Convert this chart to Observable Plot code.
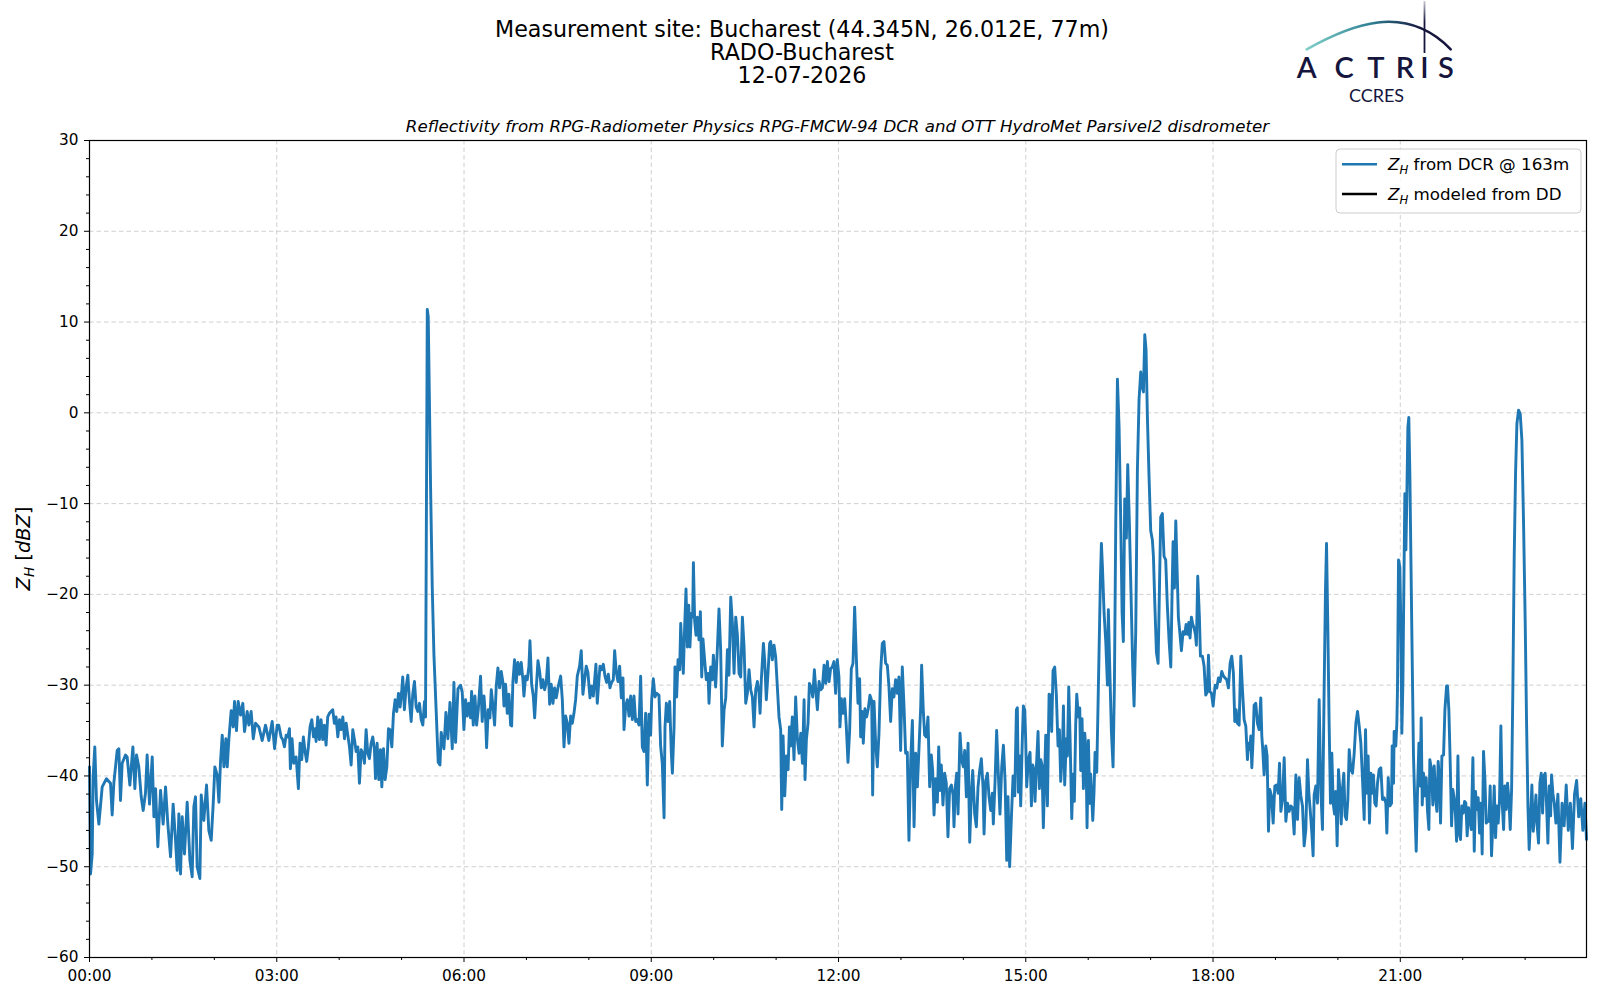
<!DOCTYPE html>
<html><head><meta charset="utf-8">
<script src="https://cdn.jsdelivr.net/npm/d3@7"></script>
<script src="https://cdn.jsdelivr.net/npm/@observablehq/plot@0.6"></script>
<style>
html,body{margin:0;padding:0;background:#fff;}
#fig{position:relative;width:1600px;height:1000px;overflow:hidden;font-family:"DejaVu Sans",sans-serif;background:#fff;}
svg{display:block;}
</style></head><body><div id="fig"></div>
<script>
// ---- Text ----
const titleLines = ["Measurement site: Bucharest (44.345N, 26.012E, 77m)", "RADO-Bucharest", "12-07-2026"];
const subtitle = "Reflectivity from RPG-Radiometer Physics RPG-FMCW-94 DCR and OTT HydroMet Parsivel2 disdrometer";
const legendLabels = [" from DCR @ 163m", " modeled from DD"];
const legendColors = ["#1f77b4", "#000000"];

// ---- Axis ticks ----
const xMajorTicks = [0, 180, 360, 540, 720, 900, 1080, 1260];
const xTickLabels = ["00:00", "03:00", "06:00", "09:00", "12:00", "15:00", "18:00", "21:00"];
const xMinorTicks = [60, 120, 240, 300, 420, 480, 600, 660, 780, 840, 960, 1020, 1140, 1200, 1320, 1380];
const yMajorTicks = [-60, -50, -40, -30, -20, -10, 0, 10, 20, 30];
const yMinorTicks = d3.range(-58, 30, 2).filter(v => v % 10 !== 0);

// ---- Data: [minutes since 00:00, Z_H dBZ] ----
const dcr00to03 = [[0,-39.0],[1,-50.8],[2.6,-48.6],[3.5,-40.1],[5.1,-36.8],[6.7,-42.7],[9.0,-45.3],[12.2,-41.2],[16.3,-40.3],[20.2,-40.8],[21.8,-44.3],[23.4,-40.8],[26.6,-37.2],[28.2,-37.0],[29.8,-42.7],[31.4,-38.6],[34.6,-37.7],[36.2,-37.9],[38.8,-41.0],[41.7,-36.8],[43.6,-41.4],[45.2,-37.7],[47.4,-39.0],[49.7,-42.3],[51.6,-43.8],[53.8,-41.9],[55.4,-37.7],[57.7,-43.1],[60.3,-37.9],[61.9,-44.5],[63.5,-41.4],[65.7,-47.8],[68.3,-41.6],[70.8,-45.3],[73.1,-41.2],[75.3,-45.3],[77.9,-48.9],[80.4,-43.1],[82.7,-47.1],[84.3,-50.4],[85.9,-44.2],[87.5,-50.8],[89.1,-44.5],[91.3,-48.6],[93.9,-42.9],[96.5,-49.3],[98.7,-51.1],[100.3,-43.4],[101.9,-42.3],[103.5,-50.0],[106.1,-51.3],[107.4,-42.1],[109.9,-44.9],[112.5,-41.0],[114.7,-46.0],[117.0,-47.1],[118.9,-43.1],[120.5,-39.0],[122.8,-39.9],[124.4,-42.9],[126.0,-38.3],[127.6,-35.5],[129.2,-39.0],[131.1,-35.9],[132.4,-39.0],[134.0,-35.9],[136.2,-32.8],[138.1,-34.6],[139.4,-31.8],[141.3,-35.0],[142.9,-31.8],[145.2,-33.3],[147.4,-32.0],[149.0,-35.1],[151.6,-32.9],[153.2,-34.4],[155.4,-32.9],[157.4,-35.9],[159.6,-34.2],[162.8,-34.6],[166.0,-36.1],[169.2,-34.4],[172.4,-36.1],[175.6,-34.0],[177.9,-37.0]];
const dcr03to06 = [[180.4,-34.4],[181.9,-34.4],[184.2,-35.7],[185.8,-36.0],[187.4,-36.8],[189.0,-35.5],[190.6,-35.7],[192.2,-34.8],[193.1,-39.2],[194.7,-35.9],[196.3,-38.6],[198.6,-37.9],[200.8,-41.4],[202.4,-36.4],[204.0,-38.2],[205.6,-35.7],[207.2,-37.3],[208.8,-38.4],[210.4,-36.8],[212.0,-34.6],[213.7,-33.8],[215.3,-35.7],[216.9,-34.8],[217.8,-36.2],[219.4,-33.5],[221.0,-36.0],[222.6,-33.8],[224.2,-36.0],[225.8,-34.4],[227.4,-36.6],[229.0,-33.5],[230.6,-33.1],[232.2,-32.9],[233.8,-32.7],[235.4,-34.2],[237.0,-33.5],[238.7,-35.7],[240.3,-33.8],[241.9,-34.9],[243.5,-33.5],[245.1,-35.9],[246.7,-34.2],[248.3,-35.5],[249.9,-36.8],[251.5,-38.8],[253.1,-34.9],[254.7,-36.0],[256.3,-37.3],[257.9,-36.8],[259.5,-40.8],[261.1,-37.1],[262.7,-37.5],[264.3,-38.6],[265.9,-34.9],[267.5,-37.5],[269.1,-38.1],[270.7,-36.4],[272.3,-35.7],[273.9,-37.1],[274.9,-40.3],[276.5,-36.4],[278.1,-40.4],[279.7,-37.1],[281.0,-41.2],[282.6,-37.0],[284.2,-40.4],[285.8,-39.0],[287.4,-34.8],[289.0,-34.9],[290.6,-36.8],[292.2,-33.1],[293.8,-31.6],[295.4,-32.9],[297.0,-30.9],[298.6,-32.4],[300.2,-30.5],[301.1,-29.1],[302.7,-32.7],[304.4,-30.2],[306.0,-28.9],[307.6,-31.8],[309.2,-34.0],[310.8,-30.9],[312.4,-29.6],[314.0,-32.4],[315.6,-32.9],[317.2,-32.0],[318.8,-33.8],[320.4,-34.4],[322.0,-31.8],[323.0,-33.5],[324.7,11.4],[325.6,10.6],[326.6,2.6],[327.9,-8.4],[329.5,-19.4],[331.1,-26.7],[333.3,-33.0],[335.2,-38.5],[336.9,-38.8],[338.1,-35.2],[340.7,-37.0],[342.6,-33.0],[344.5,-35.9],[346.5,-31.9],[348.7,-37.0],[350.3,-29.7],[351.9,-36.3],[354.2,-30.4],[356.7,-30.0],[358.3,-30.8]];
const dcr06to09 = [[359.9,-34.9],[361.5,-31.6],[363.1,-33.4],[364.7,-32.0],[366.3,-33.6],[367.3,-30.7],[368.9,-34.4],[370.5,-31.2],[372.1,-34.4],[373.7,-32.7],[375.9,-29.0],[377.5,-34.0],[379.2,-31.2],[380.8,-33.8],[381.7,-36.9],[383.3,-32.7],[384.9,-33.6],[386.2,-30.5],[387.8,-32.3],[389.4,-34.4],[391.0,-30.1],[392.6,-28.1],[394.2,-30.3],[395.8,-28.5],[397.4,-29.7],[398.4,-32.3],[400.0,-29.9],[401.6,-33.1],[403.2,-31.0],[404.8,-34.4],[405.8,-34.5],[407.0,-29.6],[408.6,-27.2],[410.2,-29.7],[411.8,-27.5],[413.4,-28.8],[415.0,-27.5],[416.6,-29.4],[417.6,-31.2],[419.2,-29.0],[420.8,-29.4],[422.4,-27.9],[423.4,-25.1],[425.0,-29.9],[426.6,-31.2],[427.9,-33.6],[429.5,-30.3],[431.1,-27.3],[432.7,-28.5],[434.3,-30.3],[435.9,-29.4],[437.5,-30.5],[439.1,-29.7],[440.7,-27.0],[442.3,-32.1],[443.9,-29.9],[445.5,-32.0],[447.1,-30.3],[448.7,-31.4],[450.3,-30.3],[452.9,-29.0],[454.5,-31.6],[456.1,-36.8],[457.7,-33.4],[459.3,-34.2],[460.9,-36.4],[462.5,-33.4],[464.1,-34.2],[465.7,-33.1],[467.3,-31.6],[468.9,-29.0],[471.1,-27.9],[472.7,-26.2],[474.3,-31.0],[475.9,-29.4],[477.5,-27.9],[479.1,-28.6],[481.1,-31.4],[482.7,-30.1],[484.3,-31.2],[485.6,-29.4],[486.8,-27.7],[488.1,-32.0],[489.7,-29.4],[490.7,-27.9],[492.3,-28.3],[493.9,-27.7],[495.5,-29.0],[497.1,-29.7],[498.7,-28.8],[500.3,-30.3],[501.9,-29.7],[503.5,-29.4],[504.8,-26.2],[506.4,-28.6],[508.0,-29.6],[509.6,-27.9],[511.2,-31.4],[512.8,-29.2],[513.8,-34.9],[515.4,-32.3],[517.0,-31.6],[518.6,-33.4],[520.2,-31.2],[521.8,-33.8],[523.4,-31.2],[525.0,-34.0],[526.6,-33.8],[528.2,-34.4],[529.8,-29.0],[531.4,-36.8],[533.0,-37.3],[534.6,-33.1],[536.2,-41.0],[537.8,-33.2]];
const dcr09to12 = [[539.4,-35.5],[540.4,-31.6],[542.0,-29.3],[543.6,-31.3],[545.2,-30.9],[547.4,-31.1],[549.0,-36.7],[550.6,-38.6],[552.3,-44.6],[553.2,-34.6],[554.5,-32.0],[556.1,-34.0],[557.7,-31.8],[559.3,-37.5],[560.3,-39.7],[561.9,-34.6],[562.8,-28.0],[564.4,-31.3],[565.7,-27.2],[567.3,-28.3],[568.3,-23.2],[569.9,-26.9],[570.8,-28.7],[572.1,-23.6],[573.4,-19.4],[574.7,-25.8],[576.0,-21.2],[577.2,-25.8],[578.5,-22.1],[579.8,-22.5],[580.5,-16.5],[581.7,-22.9],[583.0,-24.5],[584.3,-22.5],[585.9,-25.0],[587.2,-21.9],[588.5,-29.1],[589.7,-24.9],[591.3,-27.2],[592.9,-29.4],[594.6,-28.7],[595.5,-32.0],[597.1,-28.0],[598.7,-29.4],[599.7,-26.7],[601.9,-30.2],[603.5,-26.1],[605.1,-21.6],[606.7,-26.1],[608.3,-36.7],[610.0,-32.7],[611.6,-31.4],[613.2,-26.1],[614.7,-28.9],[616.4,-20.3],[618.0,-23.2],[619.6,-28.7],[621.2,-22.5],[622.8,-24.5],[624.4,-28.7],[626.0,-29.1],[627.6,-22.5],[629.2,-25.8],[630.8,-32.0],[632.4,-30.9],[634.0,-28.3],[635.6,-30.5],[637.2,-31.3],[638.8,-34.6],[640.4,-30.5],[642.0,-29.6],[643.6,-30.9],[644.6,-33.1],[645.8,-29.4],[647.8,-25.4],[649.0,-27.2],[650.6,-31.6],[652.2,-28.7],[653.8,-25.4],[654.8,-25.2],[656.4,-27.2],[658.0,-25.6],[659.6,-26.9],[661.2,-30.2],[662.8,-33.5],[664.4,-34.9],[665.4,-43.7],[666.7,-35.6],[668.3,-42.2],[669.9,-37.8],[671.5,-39.3],[672.8,-34.6],[674.0,-36.7],[675.6,-33.5],[677.2,-38.2],[678.8,-31.3],[680.5,-36.0],[682.1,-37.5],[683.7,-35.3],[685.3,-38.6],[686.9,-31.6],[687.8,-40.4],[689.1,-36.0],[690.7,-34.2],[692.0,-29.8],[693.6,-30.2],[695.2,-31.3],[696.8,-28.3],[698.4,-30.9],[699.7,-32.7],[701.3,-29.6],[702.9,-30.5],[704.5,-30.3],[706.1,-27.8],[707.7,-29.8],[709.3,-27.4],[710.9,-29.6]];
const dcr12to15 = [[712.4,-28.2],[714.0,-28.0],[715.6,-27.4],[717.2,-30.9],[718.8,-27.2],[720.4,-29.1],[721.4,-34.6],[722.7,-31.5],[724.3,-33.1],[725.9,-31.5],[727.5,-34.6],[729.1,-38.5],[730.7,-35.0],[732.3,-28.2],[733.9,-27.6],[735.5,-21.4],[737.1,-26.9],[738.7,-32.0],[740.3,-29.3],[741.3,-35.7],[742.9,-32.9],[743.8,-36.4],[745.4,-32.6],[747.0,-33.5],[748.6,-32.6],[750.2,-31.1],[751.9,-31.7],[752.8,-42.1],[754.1,-31.8],[755.7,-36.4],[757.3,-39.0],[758.9,-35.3],[760.5,-28.5],[762.1,-25.4],[763.7,-25.2],[765.3,-27.6],[766.9,-27.8],[768.5,-30.2],[770.1,-34.0],[771.7,-30.4],[773.3,-31.3],[774.9,-29.4],[776.5,-30.9],[778.1,-29.1],[779.7,-37.2],[781.3,-28.0],[782.9,-32.2],[784.5,-37.5],[786.1,-37.4],[787.7,-47.1],[789.4,-38.3],[791.0,-33.9],[792.6,-45.6],[794.2,-37.5],[795.8,-41.2],[797.4,-36.8],[799.0,-32.4],[799.9,-27.8],[801.5,-32.8],[802.8,-35.5],[804.4,-35.7],[806.0,-33.5],[807.6,-41.2],[809.2,-37.7],[810.5,-39.4],[811.8,-44.3],[813.4,-40.3],[815.0,-42.9],[816.3,-36.8],[817.6,-41.6],[818.8,-38.8],[820.4,-43.2],[822.0,-39.7],[823.6,-40.8],[825.2,-46.7],[826.8,-41.4],[828.5,-41.0],[830.1,-42.1],[831.0,-45.6],[832.3,-41.2],[833.6,-39.7],[834.9,-44.2],[836.8,-35.3],[838.4,-38.3],[840.0,-39.0],[841.3,-37.2],[842.9,-42.3],[844.5,-36.4],[846.1,-47.3],[847.7,-41.9],[849.0,-39.4],[850.9,-44.2],[852.5,-45.6],[854.1,-41.2],[855.7,-39.4],[857.3,-38.1],[858.9,-41.2],[859.9,-46.4],[861.5,-40.5],[863.1,-39.7],[864.7,-42.3],[866.3,-43.8],[867.9,-41.9],[868.8,-45.3],[870.4,-40.8],[872.0,-35.0],[873.6,-39.7],[875.2,-44.2],[876.9,-39.0],[878.5,-36.6],[880.1,-40.5],[881.7,-49.3],[882.9,-42.3],[884.5,-50.0]];
const dcr15to18 = [[886.2,-44.5],[887.8,-40.0],[889.4,-42.2],[891.0,-32.7],[891.9,-32.5],[892.9,-41.8],[894.2,-37.8],[895.1,-43.3],[896.7,-35.9],[897.7,-32.3],[899.0,-32.7],[899.9,-35.9],[900.9,-41.2],[902.5,-38.2],[904.1,-37.4],[905.4,-43.3],[906.7,-38.8],[908.0,-39.4],[908.9,-42.8],[910.2,-39.0],[911.8,-35.1],[913.1,-41.4],[914.4,-38.2],[915.6,-38.8],[916.9,-45.7],[918.2,-39.8],[919.2,-35.5],[920.8,-43.3],[922.4,-31.0],[924.0,-31.1],[924.9,-35.1],[926.2,-28.4],[927.8,-28.0],[929.4,-31.1],[931.0,-36.7],[932.3,-34.9],[933.6,-40.6],[935.2,-37.2],[936.2,-32.3],[937.4,-41.0],[939.0,-35.9],[940.0,-37.8],[941.3,-30.2],[942.6,-35.9],[944.2,-44.7],[945.4,-39.8],[946.7,-42.8],[948.0,-34.3],[949.0,-31.0],[950.6,-33.5],[951.9,-32.5],[952.8,-39.4],[954.1,-33.7],[955.4,-41.4],[956.7,-35.3],[957.9,-37.4],[958.9,-45.7],[960.2,-36.1],[961.5,-43.0],[962.4,-39.8],[964.4,-44.9],[965.6,-41.8],[966.6,-37.4],[968.2,-39.6],[969.5,-32.0],[970.8,-24.1],[971.7,-18.5],[972.7,-14.4],[973.7,-17.0],[975.3,-22.1],[976.9,-25.2],[978.5,-30.0],[979.4,-21.7],[980.7,-28.0],[982.3,-35.1],[983.9,-39.0],[985.2,-30.0],[986.5,-12.2],[988.1,3.7],[989.7,-1.6],[991.3,-12.2],[992.6,-22.1],[993.8,-25.2],[995.1,-9.5],[996.7,-13.8],[998.0,-5.7],[999.6,-12.2],[1001.2,-20.1],[1002.8,-28.0],[1004.1,-32.3],[1005.7,-24.1],[1007.3,-6.3],[1008.9,1.5],[1010.5,4.5],[1011.8,2.9],[1013.1,2.3],[1014.4,8.6],[1015.6,7.0],[1016.9,-0.4],[1018.5,-7.1],[1020.1,-13.0],[1021.7,-14.0],[1022.7,-15.8],[1024.0,-20.9],[1025.6,-26.4],[1027.2,-27.6],[1028.5,-19.3],[1029.7,-11.5],[1031.3,-11.1],[1032.9,-15.8],[1034.5,-16.2],[1036.1,-21.3],[1037.8,-25.2],[1039.4,-28.0],[1040.6,-20.1],[1041.6,-14.2],[1042.9,-19.3],[1044.2,-11.9],[1045.4,-17.0],[1046.7,-22.5],[1048.0,-24.1],[1049.6,-26.2],[1051.2,-24.1],[1052.8,-24.4],[1054.1,-23.3],[1055.4,-24.4],[1056.7,-23.1],[1057.9,-24.8],[1059.2,-22.5],[1060.5,-23.3],[1061.8,-23.7],[1063.1,-24.4],[1064.0,-25.6],[1065.3,-18.0],[1066.9,-22.5],[1067.9,-26.8]];
const dcr18to21 = [[1069.8,-26.8],[1071.4,-27.9],[1073.0,-31.1],[1074.6,-30.7],[1075.6,-26.7],[1076.9,-30.7],[1078.5,-30.9],[1080.1,-32.3],[1082.0,-30.0],[1083.6,-30.3],[1085.2,-29.2],[1086.8,-29.6],[1088.4,-28.5],[1090.0,-29.0],[1091.6,-29.2],[1093.2,-29.4],[1094.8,-30.3],[1096.4,-27.6],[1098.0,-26.8],[1099.6,-28.7],[1100.9,-34.0],[1102.2,-32.7],[1103.5,-34.2],[1105.1,-34.4],[1106.7,-26.8],[1108.3,-30.5],[1109.9,-33.8],[1111.5,-34.5],[1113.1,-38.2],[1114.1,-36.4],[1115.3,-37.1],[1116.3,-35.6],[1117.3,-39.1],[1118.5,-36.0],[1119.5,-32.2],[1121.1,-32.0],[1122.7,-34.2],[1124.3,-34.9],[1125.9,-31.4],[1126.9,-35.6],[1127.8,-37.1],[1129.1,-39.9],[1130.7,-36.7],[1132.0,-37.8],[1133.3,-46.1],[1134.6,-41.5],[1136.2,-42.2],[1137.8,-45.2],[1139.4,-41.1],[1141.0,-41.0],[1142.6,-41.9],[1143.9,-38.6],[1145.2,-43.9],[1146.8,-42.6],[1148.4,-38.0],[1150.0,-45.0],[1151.6,-43.0],[1153.2,-43.9],[1154.8,-43.3],[1156.4,-43.5],[1158.0,-46.4],[1159.6,-39.9],[1161.2,-44.8],[1162.8,-40.2],[1164.4,-42.2],[1166.0,-43.3],[1167.6,-47.7],[1169.2,-45.9],[1170.8,-38.2],[1172.1,-41.9],[1173.4,-43.7],[1175.0,-46.3],[1176.2,-48.8],[1177.2,-42.1],[1178.8,-41.1],[1180.4,-43.0],[1182.0,-31.6],[1183.6,-41.5],[1185.2,-45.9],[1186.8,-30.5],[1188.1,-19.5],[1189.1,-14.4],[1190.3,-23.2],[1191.6,-34.2],[1192.9,-43.0],[1194.2,-37.5],[1195.5,-43.0],[1196.8,-44.2],[1198.0,-41.7],[1199.3,-47.7],[1200.6,-39.3],[1201.9,-41.5],[1203.2,-45.3],[1204.4,-41.5],[1205.7,-39.7],[1207.0,-44.4],[1208.3,-44.8],[1209.6,-42.6],[1210.9,-37.1],[1212.5,-39.3],[1214.1,-39.7],[1215.7,-37.5],[1217.3,-34.2],[1218.9,-32.9],[1220.5,-34.5],[1222.1,-36.4],[1223.7,-40.4],[1225.3,-44.8],[1226.6,-34.9],[1227.8,-41.9],[1229.1,-37.8],[1230.4,-45.2],[1231.7,-39.7],[1233.0,-41.9],[1234.2,-39.9],[1235.5,-43.0],[1236.8,-43.3],[1238.1,-40.8],[1239.7,-39.3]];
const dcr21to24 = [[1241.3,-39.1],[1242.9,-42.6],[1244.5,-42.4],[1246.1,-43.0],[1247.1,-46.3],[1248.4,-40.2],[1250.0,-43.3],[1251.6,-43.0],[1252.2,-36.7],[1253.5,-40.8],[1254.1,-35.1],[1255.7,-36.7],[1256.7,-34.2],[1257.3,-30.5],[1258.3,-16.2],[1259.6,-17.0],[1260.5,-23.2],[1261.5,-35.3],[1262.5,-29.8],[1263.4,-19.5],[1264.4,-8.9],[1265.4,-15.1],[1266.3,-9.3],[1267.3,-1.6],[1268.2,-0.5],[1269.2,-6.7],[1270.2,-15.9],[1271.4,-26.8],[1272.7,-37.8],[1274.0,-43.3],[1275.3,-48.3],[1276.6,-41.5],[1277.9,-36.4],[1279.1,-41.1],[1280.1,-33.6],[1281.1,-43.2],[1282.3,-39.7],[1283.6,-42.2],[1284.9,-40.2],[1286.2,-43.9],[1287.5,-45.9],[1288.4,-38.2],[1290.0,-39.3],[1291.3,-43.2],[1292.6,-38.9],[1293.9,-42.2],[1295.2,-43.9],[1296.4,-38.4],[1297.7,-40.4],[1298.7,-45.2],[1300.0,-37.8],[1301.6,-37.7],[1302.9,-32.7],[1304.5,-30.1],[1305.4,-30.1],[1306.7,-32.7],[1308.0,-38.6],[1309.3,-45.5],[1310.5,-41.5],[1311.8,-42.4],[1313.1,-44.4],[1314.1,-47.2],[1315.4,-37.8],[1316.6,-46.3],[1317.9,-47.0],[1319.2,-43.3],[1320.5,-44.1],[1321.8,-42.8],[1323.0,-43.0],[1324.3,-46.6],[1325.6,-43.5],[1326.9,-44.8],[1328.2,-45.9],[1329.8,-38.0],[1331.1,-48.3],[1332.3,-41.7],[1333.6,-43.7],[1334.9,-42.4],[1336.2,-46.3],[1337.5,-43.0],[1338.7,-48.6],[1340.0,-37.3],[1341.3,-40.2],[1342.6,-45.2],[1343.9,-45.0],[1345.2,-45.0],[1346.4,-41.1],[1347.7,-48.8],[1349.0,-45.3],[1350.3,-41.1],[1351.6,-46.8],[1352.8,-43.3],[1354.1,-45.2],[1355.4,-42.6],[1356.7,-34.5],[1358.0,-43.0],[1359.3,-45.9],[1360.5,-41.1],[1361.8,-43.7],[1363.1,-40.8],[1364.4,-42.6],[1365.7,-45.9],[1367.0,-41.5],[1368.2,-30.5],[1369.5,-15.9],[1370.8,-6.7],[1372.1,-1.2],[1373.7,0.3],[1375.3,-0.1],[1376.9,-3.0],[1378.5,-12.2],[1380.1,-23.2],[1381.4,-34.2],[1382.7,-43.3],[1383.9,-48.1],[1385.2,-44.8],[1386.5,-41.0],[1387.8,-46.1],[1389.1,-44.4],[1390.4,-42.1],[1391.6,-45.5],[1392.9,-47.4],[1394.2,-40.8],[1395.5,-39.7],[1396.8,-44.1],[1398.0,-40.0],[1399.3,-39.7],[1400.6,-43.2],[1401.9,-47.4],[1403.2,-41.1],[1404.5,-44.4],[1405.4,-39.9],[1406.7,-41.9],[1408.0,-43.0],[1409.6,-45.2],[1411.5,-42.0],[1413.5,-49.5],[1415.5,-43.0],[1417.5,-45.5],[1419.5,-41.0],[1421.5,-46.0],[1423.5,-43.0],[1425.5,-48.0],[1427.5,-42.0],[1429.5,-40.5],[1431.5,-44.5],[1433.5,-42.5],[1435.5,-46.0],[1437.5,-43.0],[1439.0,-47.0]];
const modeledZH = []; // no disdrometer-modeled values on this day

const dcrSeries = [...dcr00to03, ...dcr03to06, ...dcr06to09, ...dcr09to12, ...dcr12to15, ...dcr15to18, ...dcr18to21, ...dcr21to24];

// ---- Header (titles + logo) ----
const fig = d3.select("#fig");
const NAVY = "#15153d";
const header = fig.append("svg").attr("width", 1600).attr("height", 135);
const tl = header.append("g").attr("font-family", "DejaVu Sans").attr("font-size", 22.2).attr("text-anchor", "middle").attr("fill", "#000");
[36.5, 59.5, 82.5].forEach((y, i) => tl.append("text").attr("x", 802).attr("y", y).text(titleLines[i]));
header.append("text").attr("x", 837.5).attr("y", 132).attr("text-anchor", "middle")
  .attr("font-family", "DejaVu Sans").attr("font-style", "italic").attr("font-size", 16.67).text(subtitle);

const defs = header.append("defs");
const g1 = defs.append("linearGradient").attr("id", "arcGrad").attr("x1", "0").attr("x2", "1").attr("y1", "0").attr("y2", "0");
g1.append("stop").attr("offset", "0").attr("stop-color", "#7fd0c8");
g1.append("stop").attr("offset", "0.45").attr("stop-color", "#2f7f93");
g1.append("stop").attr("offset", "0.8").attr("stop-color", NAVY);
g1.append("stop").attr("offset", "1").attr("stop-color", NAVY);
const g2 = defs.append("linearGradient").attr("id", "vGrad").attr("x1", "0").attr("x2", "0").attr("y1", "0").attr("y2", "1");
g2.append("stop").attr("offset", "0").attr("stop-color", "#c8c8d4");
g2.append("stop").attr("offset", "0.4").attr("stop-color", NAVY);
g2.append("stop").attr("offset", "1").attr("stop-color", NAVY);
header.append("path").attr("d", "M1306.7,49.3 C1350,25 1405,2 1450.7,49.3")
  .attr("fill", "none").attr("stroke", "url(#arcGrad)").attr("stroke-width", 2.6).attr("stroke-linecap", "round");
header.append("rect").attr("x", 1423.6).attr("y", 1).attr("width", 1.8).attr("height", 52).attr("fill", "url(#vGrad)");
const logoLetters = ["A", "C", "T", "R", "I", "S"];
const logoX = [1306.7, 1344.2, 1375.8, 1405, 1424.5, 1445.8];
logoLetters.forEach((ch, i) => header.append("text").attr("x", logoX[i]).attr("y", 77.5)
  .attr("text-anchor", "middle").attr("font-family", "Lato").attr("font-weight", 600).attr("font-size", 29).attr("fill", NAVY).text(ch));
header.append("text").attr("x", 1376.5).attr("y", 101.5).attr("text-anchor", "middle")
  .attr("font-family", "Lato").attr("font-size", 18).attr("fill", NAVY).text("CCRES");

// ---- Chart ----
const gridStyle = {stroke: "#b0b0b0", strokeOpacity: 0.6, strokeWidth: 1, strokeDasharray: "4.5,3"};
const chart = Plot.plot({
  width: 1600,
  height: 865,
  marginTop: 5,
  marginBottom: 43,
  marginLeft: 89,
  marginRight: 14,
  style: {fontFamily: "DejaVu Sans", fontSize: "15.3px", color: "#000", background: "#fff", overflow: "visible"},
  x: {domain: [0, 1439], label: null},
  y: {domain: [-60, 30], label: null},
  marks: [
    Plot.gridX(xMajorTicks, gridStyle),
    Plot.gridY(yMajorTicks, gridStyle),
    Plot.line(dcrSeries, {x: d => d[0], y: d => d[1], stroke: legendColors[0], strokeWidth: 2.9, strokeLinejoin: "round"}),
    Plot.line(modeledZH, {x: d => d[0], y: d => d[1], stroke: legendColors[1], strokeWidth: 2.9}),
    Plot.frame({stroke: "#000", strokeWidth: 1.2}),
    Plot.axisX(xMajorTicks, {tickSize: 5, tickPadding: 8, tickFormat: d => xTickLabels[xMajorTicks.indexOf(d)], label: null, stroke: "#000"}),
    Plot.axisX(xMinorTicks, {tickSize: 3, tickFormat: () => "", label: null, stroke: "#000"}),
    Plot.axisY(yMajorTicks, {tickSize: 5, tickPadding: 6, tickFormat: d => d < 0 ? "\u2212" + Math.abs(d) : String(d), label: null, stroke: "#000"}),
    Plot.axisY(yMinorTicks, {tickSize: 3, tickFormat: () => "", label: null, stroke: "#000"})
  ]
});
fig.node().appendChild(chart);
const svg = d3.select(chart);

// y-axis label: Z_H [dBZ]
const yl = svg.append("text").attr("transform", "translate(29.5,413.5) rotate(-90)")
  .attr("text-anchor", "middle").attr("font-family", "DejaVu Sans").attr("font-size", 19.4).attr("fill", "#000");
yl.append("tspan").attr("font-style", "italic").text("Z");
yl.append("tspan").attr("font-style", "italic").attr("font-size", 13.6).attr("dy", 4).text("H");
yl.append("tspan").attr("dy", -4).text(" [");
yl.append("tspan").attr("font-style", "italic").text("dBZ");
yl.append("tspan").text("]");

// legend
const lg = svg.append("g").attr("font-family", "DejaVu Sans").attr("font-size", 16.7).attr("text-anchor", "start");
lg.append("rect").attr("x", 1336).attr("y", 14).attr("width", 245).attr("height", 64).attr("rx", 4)
  .attr("fill", "#fff").attr("fill-opacity", 0.85).attr("stroke", "#cccccc").attr("stroke-width", 1);
[29.3, 59].forEach((y, i) => {
  lg.append("line").attr("x1", 1342).attr("x2", 1377).attr("y1", y).attr("y2", y)
    .attr("stroke", legendColors[i]).attr("stroke-width", 2.6);
  const t = lg.append("text").attr("x", 1388).attr("y", y + 6).attr("fill", "#000").attr("text-anchor", "start");
  t.append("tspan").attr("font-style", "italic").text("Z");
  t.append("tspan").attr("font-style", "italic").attr("font-size", 11.7).attr("dy", 3.5).text("H");
  t.append("tspan").attr("dy", -3.5).text(legendLabels[i]);
});
</script>
</body></html>
